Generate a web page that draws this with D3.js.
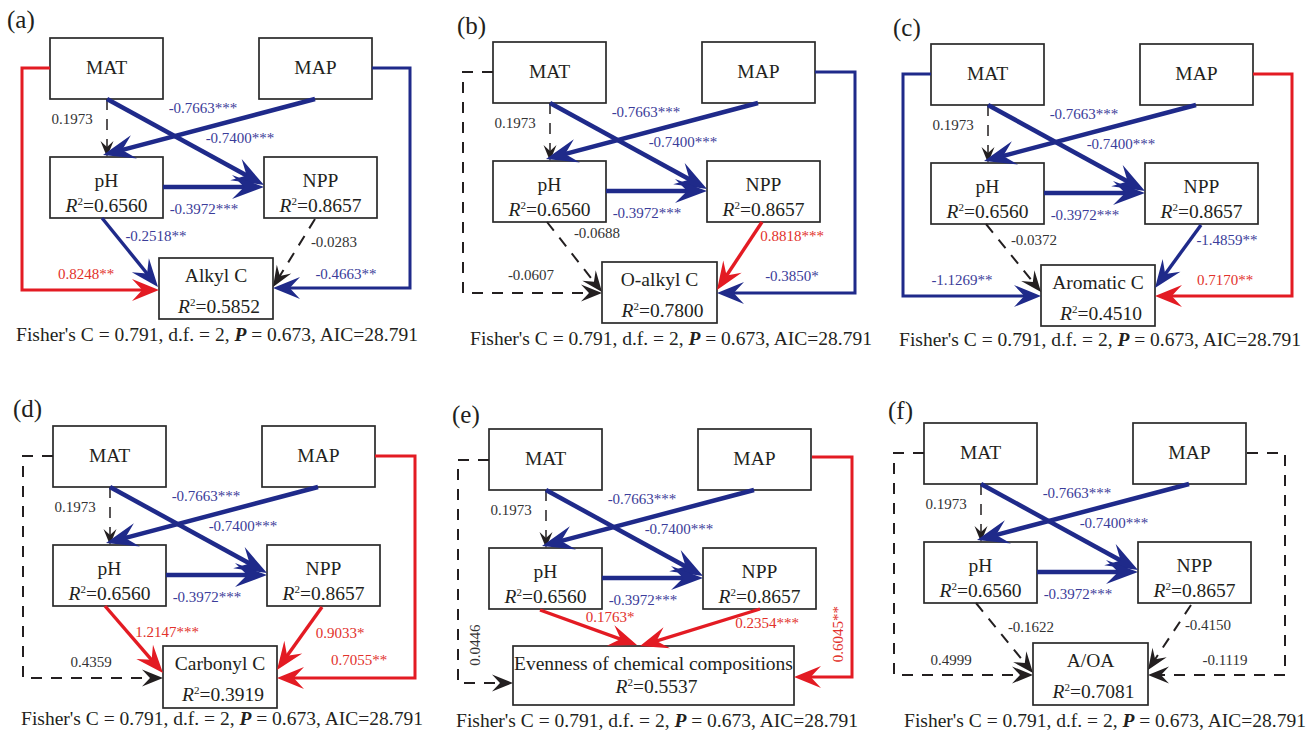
<!DOCTYPE html>
<html>
<head>
<meta charset="utf-8">
<script src="https://cdn.jsdelivr.net/npm/d3@7"></script>
<style>
body { margin: 0; background: #fff; }
svg text { font-family: "Liberation Serif", "Times New Roman", serif; }
</style>
</head>
<body>
<svg id="chart" width="1316" height="732"></svg>
<script>
// ---- data ----
var panelLabels = ["(a)", "(b)", "(c)", "(d)", "(e)", "(f)"];
var responses = ["Alkyl C", "O-alkyl C", "Aromatic C", "Carbonyl C", "Evenness of chemical compositions", "A/OA"];
var responseR2 = ["0.5852", "0.7800", "0.4510", "0.3919", "0.5537", "0.7081"];
var mediators = ["pH", "NPP"];
var mediatorR2 = ["0.6560", "0.8657"];
var drivers = ["MAT", "MAP"];

var sharedFrom = ["MAT", "MAP", "MAT", "pH"];
var sharedTo = ["pH", "pH", "NPP", "NPP"];
var sharedCoef = [0.1973, -0.7663, -0.7400, -0.3972];
var sharedSig = ["", "***", "***", "***"];

var respPredictors = ["pH", "NPP", "MAT", "MAP"];
var phCoef = [-0.2518, -0.0688, -0.0372, 1.2147, 0.1763, -0.1622];
var phSig = ["**", "", "", "***", "*", ""];
var nppCoef = [-0.0283, 0.8818, -1.4859, 0.9033, 0.2354, -0.4150];
var nppSig = ["", "***", "**", "*", "***", ""];
var matCoef = [0.8248, -0.0607, -1.1269, 0.4359, 0.0446, 0.4999];
var matSig = ["**", "", "**", "", "", ""];
var mapCoef = [-0.4663, -0.3850, 0.7170, 0.7055, 0.6045, -0.1119];
var mapSig = ["**", "*", "**", "**", "**", ""];

var fisherC = 0.791, dfree = 2, pValue = 0.673, aic = 28.791;

// ---- layout ----
var panelOrigin = [[50, 38], [493, 42], [931, 44], [53, 426], [489, 429], [924, 423]];
var labelPos = [[-43, -10], [-36, -8], [-38, -8], [-40, -9], [-37, -6], [-36, -4]];
var fisherPos = [[167, 303], [178, 303], [169, 302], [169, 299], [168, 298], [181, 304]];
var boxW = 113, boxH = 61;
var nodePos = { MAT: [0, 0], MAP: [209, 0], pH: [0, 119], NPP: [214, 119] };
var respBox = [[109, 220, 114, 61], [109, 220, 115, 61], [110, 221, 114, 61], [110, 220, 114, 62], [24, 217, 281, 59], [109, 220, 115, 62]];
var respText = [[24, 55], [24, 55], [24, 55], [24, 55], [24, 47], [24, 55]];

var sharedGeom = [
  { pts: [[57, 61], [57, 119]], lab: [22, 86] },
  { pts: [[265, 61], [53, 117]], lab: [153, 75] },
  { pts: [[57, 61], [214, 147]], lab: [190, 105] },
  { pts: [[113, 149], [214, 149]], lab: [154, 176] }
];

// per panel: pH, NPP, MAT, MAP paths into the response box
var respGeom = [
  [{ pts: [[52, 180], [108, 249]], lab: [106, 203] },
   { pts: [[265, 181], [223, 249]], lab: [284, 209] },
   { pts: [[0, 30], [-28, 30], [-28, 252], [109, 252]], lab: [36, 241] },
   { pts: [[322, 30], [360, 30], [360, 250], [223, 250]], lab: [296, 241] }],
  [{ pts: [[54, 180], [109, 250]], lab: [104, 196] },
   { pts: [[269, 180], [224, 248]], lab: [299, 199] },
   { pts: [[0, 30], [-30, 30], [-30, 251], [109, 251]], lab: [38, 238] },
   { pts: [[322, 30], [362, 30], [362, 251], [224, 251]], lab: [299, 239] }],
  [{ pts: [[55, 180], [110, 248]], lab: [103, 201] },
   { pts: [[270, 181], [224, 244]], lab: [296, 201] },
   { pts: [[0, 30], [-28, 30], [-28, 252], [110, 252]], lab: [31, 241] },
   { pts: [[322, 30], [361, 30], [361, 252], [224, 252]], lab: [294, 241] }],
  [{ pts: [[52, 180], [110, 247]], lab: [114, 211] },
   { pts: [[269, 181], [224, 244]], lab: [287, 212] },
   { pts: [[0, 30], [-30, 30], [-30, 252], [110, 252]], lab: [38, 241] },
   { pts: [[322, 30], [362, 30], [362, 252], [224, 252]], lab: [306, 239] }],
  [{ pts: [[51, 181], [148, 216]], lab: [121, 193] },
   { pts: [[271, 180], [151, 217]], lab: [278, 199] },
   { pts: [[0, 31], [-31, 31], [-31, 254], [24, 254]], lab: [-14, 216], rot: -90 },
   { pts: [[323, 28], [363, 28], [363, 248], [305, 248]], lab: [349, 205], rot: -90 }],
  [{ pts: [[52, 180], [109, 250]], lab: [107, 209] },
   { pts: [[267, 182], [224, 247]], lab: [284, 207] },
   { pts: [[0, 30], [-30, 30], [-30, 252], [109, 252]], lab: [27, 242] },
   { pts: [[323, 30], [361, 30], [361, 252], [224, 252]], lab: [301, 242] }]
];

var BLUE = "#1f2a8a", RED = "#e31b23", BLACK = "#231f20";
var BLUE_TXT = "#3b3c99", RED_TXT = "#e2312b";

var svg = d3.select("#chart");
var line = d3.line();

function edgeStyle(coef, sig, kind) {
  var s = {};
  if (sig === "") {
    s.color = BLACK; s.txt = "#333"; s.dash = "11,9";
    s.w = kind === "top" ? 1.5 : 2; s.L = kind === "top" ? 16 : 21; s.W = kind === "top" ? 13 : 17;
  } else {
    s.color = coef > 0 ? RED : BLUE; s.txt = coef > 0 ? RED_TXT : BLUE_TXT; s.dash = null;
    if (kind === "top") { s.w = 4.5; s.L = 32; s.W = 24; }
    else if (kind === "diag") { s.w = 3.4; s.L = 28; s.W = 22; }
    else { s.w = 3; s.L = 27; s.W = 22; }
  }
  return s;
}

function drawEdge(g, x, y, geom, coef, sig, kind) {
  var st = edgeStyle(coef, sig, kind);
  var pts = geom.pts.map(function (p) { return [x(p[0]), y(p[1])]; });
  var n = pts.length, tip = pts[n - 1], prev = pts[n - 2];
  var ang = Math.atan2(tip[1] - prev[1], tip[0] - prev[0]);
  var cut = st.L * 0.6;
  var body = pts.slice(0, n - 1).concat([[tip[0] - Math.cos(ang) * cut, tip[1] - Math.sin(ang) * cut]]);
  g.append("path")
    .attr("d", line(body))
    .attr("fill", "none")
    .attr("stroke", st.color)
    .attr("stroke-width", st.w)
    .attr("stroke-dasharray", st.dash);
  var head = [[0, 0], [-st.L, -st.W / 2], [-st.L * 0.62, 0], [-st.L, st.W / 2]];
  g.append("path")
    .attr("d", line(head) + "Z")
    .attr("fill", st.color)
    .attr("transform", "translate(" + tip[0] + "," + tip[1] + ") rotate(" + (ang * 180 / Math.PI) + ")");
  var t = g.append("text")
    .attr("text-anchor", "middle")
    .attr("font-size", 15)
    .attr("fill", st.txt)
    .text(coef.toFixed(4) + sig);
  if (geom.rot) {
    t.attr("transform", "translate(" + x(geom.lab[0]) + "," + y(geom.lab[1]) + ") rotate(" + geom.rot + ")")
      .attr("dy", "0.35em");
  } else {
    t.attr("x", x(geom.lab[0])).attr("y", y(geom.lab[1]));
  }
}

function r2Text(sel, val) {
  sel.append("tspan").attr("font-style", "italic").text("R");
  sel.append("tspan").attr("font-size", 11).attr("dy", -7).text("2");
  sel.append("tspan").attr("dy", 7).text("=" + val);
}

panelLabels.forEach(function (lab, i) {
  var o = panelOrigin[i];
  var x = d3.scaleLinear().domain([0, 360]).range([o[0], o[0] + 360]);
  var y = d3.scaleLinear().domain([0, 300]).range([o[1], o[1] + 300]);
  var g = svg.append("g");

  g.append("text")
    .attr("x", x(labelPos[i][0])).attr("y", y(labelPos[i][1]))
    .attr("font-size", 25).attr("fill", BLACK)
    .text(lab);

  // driver boxes
  drivers.forEach(function (d) {
    var p = nodePos[d];
    g.append("rect")
      .attr("x", x(p[0])).attr("y", y(p[1]))
      .attr("width", boxW).attr("height", boxH)
      .attr("fill", "#fff").attr("stroke", "#2a2a2a").attr("stroke-width", 1.7);
    g.append("text")
      .attr("x", x(p[0] + boxW / 2)).attr("y", y(p[1] + 36))
      .attr("text-anchor", "middle").attr("font-size", 19.5).attr("fill", BLACK)
      .text(d);
  });

  // mediator boxes
  mediators.forEach(function (d, k) {
    var p = nodePos[d];
    g.append("rect")
      .attr("x", x(p[0])).attr("y", y(p[1]))
      .attr("width", boxW).attr("height", boxH)
      .attr("fill", "#fff").attr("stroke", "#2a2a2a").attr("stroke-width", 1.7);
    g.append("text")
      .attr("x", x(p[0] + boxW / 2)).attr("y", y(p[1] + 30))
      .attr("text-anchor", "middle").attr("font-size", 19.5).attr("fill", BLACK)
      .text(d);
    g.append("text")
      .attr("x", x(p[0] + boxW / 2)).attr("y", y(p[1] + 55))
      .attr("text-anchor", "middle").attr("font-size", 19.5).attr("fill", BLACK)
      .call(r2Text, mediatorR2[k]);
  });

  // response box
  var rb = respBox[i];
  g.append("rect")
    .attr("x", x(rb[0])).attr("y", y(rb[1]))
    .attr("width", rb[2]).attr("height", rb[3])
    .attr("fill", "#fff").attr("stroke", "#2a2a2a").attr("stroke-width", 1.7);
  g.append("text")
    .attr("x", x(rb[0] + rb[2] / 2)).attr("y", y(rb[1] + respText[i][0]))
    .attr("text-anchor", "middle").attr("font-size", 19.5).attr("fill", BLACK)
    .text(responses[i]);
  g.append("text")
    .attr("x", x(rb[0] + rb[2] / 2 + 3)).attr("y", y(rb[1] + respText[i][1]))
    .attr("text-anchor", "middle").attr("font-size", 19.5).attr("fill", BLACK)
    .call(r2Text, responseR2[i]);

  // shared paths among drivers and mediators
  sharedFrom.forEach(function (f, k) {
    drawEdge(g, x, y, sharedGeom[k], sharedCoef[k], sharedSig[k], "top");
  });

  // paths into the response
  var coefs = [phCoef[i], nppCoef[i], matCoef[i], mapCoef[i]];
  var sigs = [phSig[i], nppSig[i], matSig[i], mapSig[i]];
  respPredictors.forEach(function (pr, k) {
    drawEdge(g, x, y, respGeom[i][k], coefs[k], sigs[k], k < 2 ? "diag" : "elbow");
  });

  // model fit line
  var ft = g.append("text")
    .attr("x", x(fisherPos[i][0])).attr("y", y(fisherPos[i][1]))
    .attr("text-anchor", "middle").attr("font-size", 19.5).attr("fill", BLACK);
  ft.append("tspan").text("Fisher's C = " + fisherC.toFixed(3) + ", d.f. = " + dfree + ", ");
  ft.append("tspan").attr("font-style", "italic").attr("font-weight", "bold").text("P");
  ft.append("tspan").text(" = " + pValue.toFixed(3) + ", AIC=" + aic.toFixed(3));
});
</script>
</body>
</html>
